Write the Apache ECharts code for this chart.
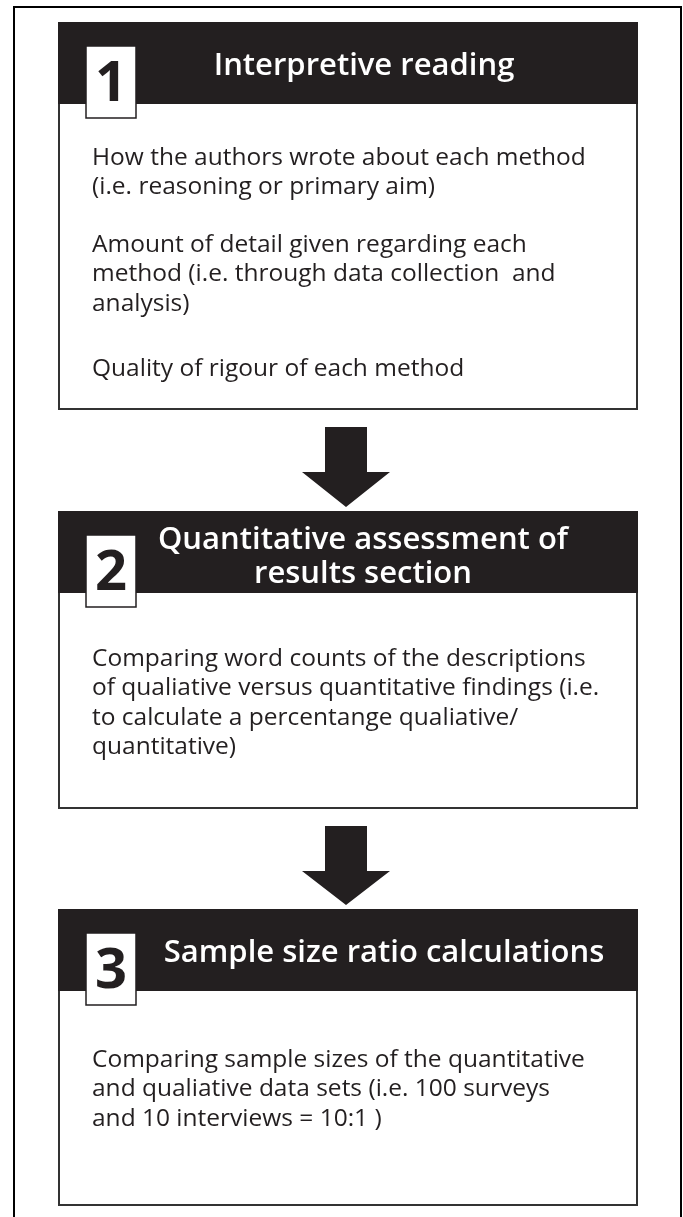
<!DOCTYPE html>
<html>
<head>
<meta charset="utf-8">
<script src="https://cdn.jsdelivr.net/npm/echarts@6/dist/echarts.min.js"></script>
<style>
  html, body { margin: 0; padding: 0; background: #fff; }
  #flow { width: 683px; height: 1217px; }
</style>
</head>
<body>
<div id="flow"></div>
<script>
const stepNumbers = ['1', '2', '3']
const stepTitles = [
  'Interpretive reading',
  'Quantitative assessment of\nresults section',
  'Sample size ratio calculations'
]
const stepParagraphs = [
  [
    ['How the authors wrote about each method', '(i.e. reasoning or primary aim)'],
    ['Amount of detail given regarding each', 'method (i.e. through data collection  and', 'analysis)'],
    ['Quality of rigour of each method']
  ],
  [
    ['Comparing word counts of the descriptions', 'of qualiative versus quantitative findings (i.e.', 'to calculate a percentange qualiative/', 'quantitative)']
  ],
  [
    ['Comparing sample sizes of the quantitative', 'and qualiative data sets (i.e. 100 surveys', 'and 10 interviews = 10:1 )']
  ]
]

// layout
const dark = '#231f20'
const boxLeft = 59
const boxWidth = 578
const boxTops = [23, 512, 910]
const boxBottoms = [409, 808, 1205]
const headerH = 81
const titleCenters = [364, 363, 384]
const bodyStarts = [158, 659, 1060]
const paraGap = 28
const lineH = 29.5
const fontFamily = '"Open Sans", "Noto Sans", sans-serif'

const chart = echarts.init(document.getElementById('flow'), null, { renderer: 'canvas' })
const elements = []

// outer frame
elements.push({
  type: 'rect',
  shape: { x: 14, y: 7, width: 667, height: 1230 },
  style: { fill: 'none', stroke: '#000', lineWidth: 2 },
  silent: true
})

stepNumbers.forEach(function (num, i) {
  const top = boxTops[i]
  const bottom = boxBottoms[i]
  // box outline
  elements.push({
    type: 'rect',
    shape: { x: boxLeft, y: top, width: boxWidth, height: bottom - top },
    style: { fill: '#fff', stroke: '#333', lineWidth: 2 }
  })
  // header band
  elements.push({
    type: 'rect',
    shape: { x: boxLeft - 1, y: top - 1, width: boxWidth + 2, height: headerH + 1 },
    style: { fill: dark }
  })
  // number tab
  elements.push({
    type: 'rect',
    shape: { x: 86, y: top + 23, width: 50, height: 72 },
    style: { fill: '#fff', stroke: dark, lineWidth: 1.5 }
  })
  elements.push({
    type: 'text',
    x: 111,
    y: top + 62,
    style: {
      text: num,
      font: 'bold 56px ' + fontFamily,
      fill: dark,
      align: 'center',
      verticalAlign: 'middle'
    }
  })
  // title
  const twoLine = stepTitles[i].indexOf('\n') > -1
  elements.push({
    type: 'text',
    x: titleCenters[i],
    y: top + headerH / 2 + (twoLine ? 5 : 3),
    style: {
      text: stepTitles[i],
      font: '600 31px ' + fontFamily,
      fill: '#fff',
      align: 'center',
      verticalAlign: 'middle',
      lineHeight: 34
    }
  })
  // body paragraphs
  let y = bodyStarts[i]
  stepParagraphs[i].forEach(function (lines, p) {
    if (p > 0) y += paraGap + (p > 1 ? 8 : 0)
    lines.forEach(function (line) {
      elements.push({
        type: 'text',
        x: 92,
        y: y,
        style: {
          text: line,
          font: '24.5px ' + fontFamily,
          fill: dark,
          align: 'left',
          verticalAlign: 'middle'
        }
      })
      y += lineH
    })
  })
  // arrow to next box
  if (i < stepNumbers.length - 1) {
    const a = bottom + 18
    const b = boxTops[i + 1] - 5
    elements.push({
      type: 'polygon',
      shape: {
        points: [
          [325, a], [367, a], [367, a + 45], [390, a + 45],
          [346, b], [302, a + 45], [325, a + 45]
        ]
      },
      style: { fill: dark }
    })
  }
})

chart.setOption({
  backgroundColor: '#fff',
  animation: false,
  graphic: { elements: elements }
})
</script>
</body>
</html>
